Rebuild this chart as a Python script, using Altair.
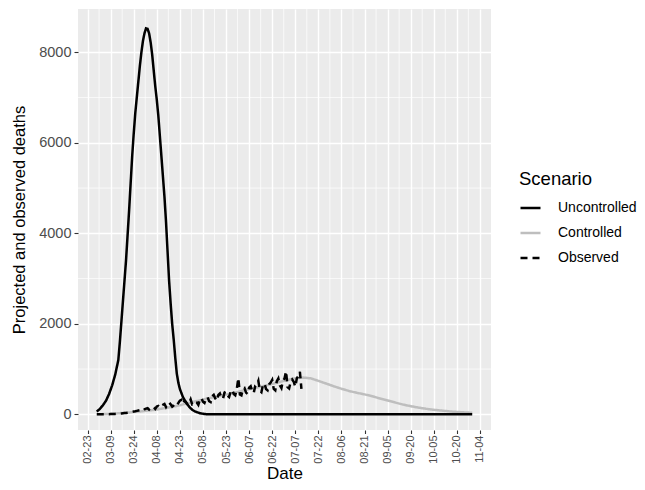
import altair as alt
import pandas as pd

# ---------------- data ----------------
scenarios = ["Uncontrolled", "Controlled", "Observed"]

unc_dates = [
    "2020-02-29", "2020-03-02", "2020-03-04", "2020-03-06", "2020-03-08", "2020-03-10",
    "2020-03-12", "2020-03-14", "2020-03-15", "2020-03-16", "2020-03-17", "2020-03-18",
    "2020-03-19", "2020-03-20", "2020-03-21", "2020-03-22", "2020-03-23", "2020-03-24",
    "2020-03-25", "2020-03-26", "2020-03-27", "2020-03-28", "2020-03-29", "2020-03-30",
    "2020-03-31", "2020-04-01", "2020-04-02", "2020-04-03", "2020-04-04", "2020-04-05",
    "2020-04-06", "2020-04-07", "2020-04-08", "2020-04-09", "2020-04-10", "2020-04-11",
    "2020-04-12", "2020-04-13", "2020-04-14", "2020-04-15", "2020-04-16", "2020-04-17",
    "2020-04-18", "2020-04-19", "2020-04-20", "2020-04-21", "2020-04-22", "2020-04-23",
    "2020-04-25", "2020-04-27", "2020-04-29", "2020-05-01", "2020-05-03", "2020-05-06",
    "2020-05-09", "2020-05-13", "2020-10-30",
]
unc_values = [
    60, 120, 200, 300, 450, 640,
    880, 1200, 1600, 2050, 2500, 2950,
    3400, 3950, 4500, 5100, 5700, 6200,
    6650, 7000, 7350, 7700, 8000, 8250,
    8420, 8530, 8520, 8420, 8220, 7950,
    7600, 7250, 6950, 6600, 6150, 5700,
    5250, 4800, 4250, 3600, 2950, 2450,
    2000, 1650, 1250, 900, 700, 560,
    380, 260, 170, 100, 60, 25,
    5, 0, 0,
]

ctl_dates = [
    "2020-02-29", "2020-03-09", "2020-03-19", "2020-03-29", "2020-04-08", "2020-04-18",
    "2020-04-23", "2020-04-28", "2020-05-03", "2020-05-08", "2020-05-13", "2020-05-18",
    "2020-05-23", "2020-05-28", "2020-06-02", "2020-06-07", "2020-06-12", "2020-06-17",
    "2020-06-22", "2020-06-27", "2020-07-02", "2020-07-07", "2020-07-12", "2020-07-17",
    "2020-07-22", "2020-07-27", "2020-08-01", "2020-08-06", "2020-08-11", "2020-08-16",
    "2020-08-21", "2020-08-26", "2020-08-31", "2020-09-05", "2020-09-10", "2020-09-15",
    "2020-09-20", "2020-09-25", "2020-09-30", "2020-10-05", "2020-10-10", "2020-10-15",
    "2020-10-20", "2020-10-25", "2020-10-30",
]
ctl_values = [
    0, 10, 35, 65, 105, 165,
    200, 245, 285, 325, 365, 400,
    435, 475, 515, 555, 590, 630,
    670, 715, 760, 795, 812, 795,
    740, 680, 620, 565, 515, 475,
    440, 400, 350, 305, 260, 215,
    180, 148, 122, 100, 82, 65,
    52, 42, 33,
]

obs_start = "2020-02-29"   # daily values from this date
obs_values = [
    0, 0, 0, 0, 1, 1, 2, 2, 3, 4, 5, 7, 9, 11,
    13, 16, 19, 23, 27, 31, 36, 41, 47, 53, 60, 67, 75, 83,
    90, 98, 80, 110, 125, 135, 105, 140, 155, 160, 120, 170, 185, 150,
    190, 210, 230, 160, 220, 260, 220, 170, 200, 240, 210, 250, 300, 320,
    230, 300, 270, 210, 250, 330, 220, 230, 280, 260, 210, 320, 360, 280,
    250, 340, 380, 290, 270, 400, 430, 350, 300, 430, 460, 370, 340, 480,
    500, 410, 380, 500, 540, 450, 420, 560, 800, 440, 420, 560, 580, 480,
    450, 590, 620, 510, 470, 630, 650, 740, 520, 490, 650, 680, 560, 530,
    660, 700, 760, 560, 530, 730, 790, 640, 580, 750, 790, 950, 600, 570,
    720, 770, 720, 610, 790, 850, 940, 560,
]

x_ticks = [
    "2020-02-23", "2020-03-09", "2020-03-24", "2020-04-08", "2020-04-23", "2020-05-08",
    "2020-05-23", "2020-06-07", "2020-06-22", "2020-07-07", "2020-07-22", "2020-08-06",
    "2020-08-21", "2020-09-05", "2020-09-20", "2020-10-05", "2020-10-20", "2020-11-04",
]
y_ticks = [0, 2000, 4000, 6000, 8000]
y_minor = [1000, 3000, 5000, 7000]
x_limits = ["2020-02-16T19:00:00", "2020-11-11T05:00:00"]
y_limits = [-347, 8957]

# ---------------- build tables ----------------
def iso(s):
    return pd.Timestamp(s).strftime("%Y-%m-%dT%H:%M:%S")

rows = []
for d, v in zip(ctl_dates, ctl_values):
    rows.append({"Date": iso(d), "deaths": v, "Scenario": "Controlled"})
for d, v in zip(unc_dates, unc_values):
    rows.append({"Date": iso(d), "deaths": v, "Scenario": "Uncontrolled"})
obs_dates = pd.date_range(obs_start, periods=len(obs_values), freq="D")
for d, v in zip(obs_dates, obs_values):
    rows.append({"Date": d.strftime("%Y-%m-%dT%H:%M:%S"), "deaths": v, "Scenario": "Observed"})
df = pd.DataFrame(rows)

tick_ts = [pd.Timestamp(t) for t in x_ticks]
x_minor = [(a + (b - a) / 2).strftime("%Y-%m-%dT%H:%M:%S") for a, b in zip(tick_ts[:-1], tick_ts[1:])]
minor_x_df = pd.DataFrame({"Date": x_minor})
minor_y_df = pd.DataFrame({"deaths": y_minor})


def dt(s):
    t = pd.Timestamp(s)
    return alt.DateTime(year=t.year, month=t.month, date=t.day, hours=t.hour, minutes=t.minute)


FONT = "Liberation Sans"

xscale = alt.Scale(domain=[dt(x_limits[0]), dt(x_limits[1])], nice=False)
yscale = alt.Scale(domain=y_limits, nice=False, zero=False)

xaxis = alt.Axis(
    values=[dt(t) for t in x_ticks], format="%m-%d", labelAngle=-90,
    grid=True, gridColor="white", gridWidth=1.4, domain=False,
    tickColor="#333333", tickSize=3.5, tickWidth=1.1,
    labelColor="#4D4D4D", labelFontSize=11, labelFont=FONT, labelPadding=1.5,
    labelOverlap=False, labelFlush=False,
    title="Date", titleFont=FONT, titleFontSize=17, titleFontWeight="normal",
    titleColor="black", titlePadding=2,
)
yaxis = alt.Axis(
    values=y_ticks, format="d",
    grid=True, gridColor="white", gridWidth=1.4, domain=False,
    tickColor="#333333", tickSize=4, tickWidth=1.1,
    labelColor="#4D4D4D", labelFontSize=14.5, labelFont=FONT, labelPadding=3,
    title="Projected and observed deaths", titleFont=FONT, titleFontSize=16.5,
    titleFontWeight="normal", titleColor="black", titlePadding=11,
)

x_enc = alt.X("Date:T", scale=xscale, axis=xaxis)
y_enc = alt.Y("deaths:Q", scale=yscale, axis=yaxis)

minor_x = alt.Chart(minor_x_df).mark_rule(color="white", strokeWidth=0.7).encode(x=x_enc)
minor_y = alt.Chart(minor_y_df).mark_rule(color="white", strokeWidth=0.7).encode(y=y_enc)

legend = alt.Legend(
    title="Scenario", orient="none", legendX=441, legendY=161,
    titleFont=FONT, titleFontSize=18.5, titleFontWeight="normal", titleColor="black",
    titlePadding=8, labelFont=FONT, labelFontSize=14, labelColor="black",
    symbolType="stroke", symbolSize=400, symbolStrokeWidth=2.5,
    labelOffset=16, rowPadding=6, padding=0,
)

lines = alt.Chart(df).mark_line(strokeWidth=2.5).encode(
    x=x_enc,
    y=y_enc,
    color=alt.Color("Scenario:N", scale=alt.Scale(domain=scenarios, range=["black", "#BEBEBE", "black"]), legend=legend),
    strokeDash=alt.StrokeDash("Scenario:N", scale=alt.Scale(domain=scenarios, range=[[1, 0], [1, 0], [7, 5]]), legend=legend),
    detail="Scenario:N",
)

chart = alt.layer(minor_x, minor_y, lines).properties(
    width=413, height=421,
    padding={"left": 3, "top": 0, "right": 0, "bottom": 0},
    background="white",
).configure_view(fill="#EBEBEB", stroke=None)

chart.save("out.html", embed_options={"renderer": "svg", "actions": False})
